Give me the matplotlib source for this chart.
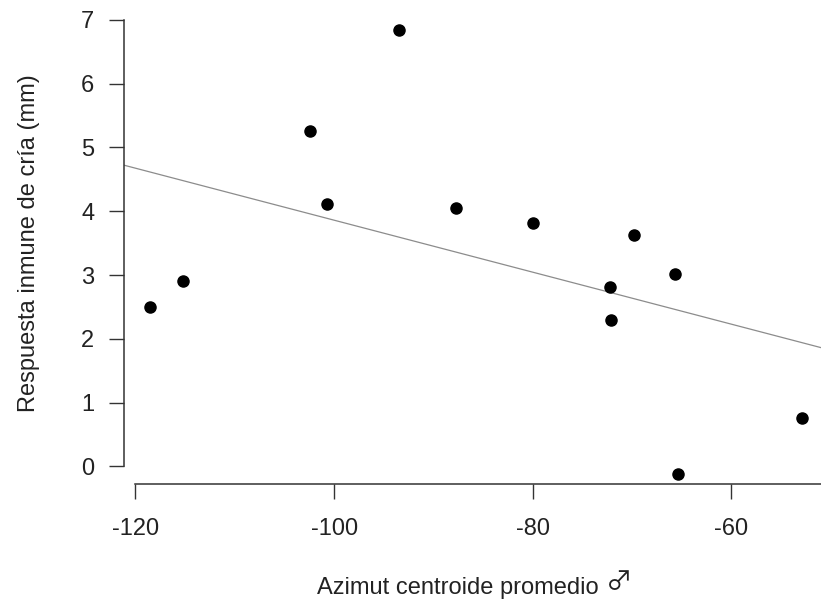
import numpy as np
import matplotlib
matplotlib.use("Agg")
import matplotlib.pyplot as plt

plt.rcParams['font.family'] = ['Liberation Sans', 'DejaVu Sans']

# values
azimut = [-118.5, -115.2, -102.4, -100.7, -93.5, -87.7, -80.0,
          -69.8, -65.7, -72.2, -72.1, -65.4, -52.9]
respuesta = [2.50, 2.90, 5.26, 4.11, 6.84, 4.05, 3.82,
             3.63, 3.02, 2.81, 2.29, -0.12, 0.76]
x_ticks = [-120, -100, -80, -60]
y_ticks = [0, 1, 2, 3, 4, 5, 6, 7]

x = np.array(azimut)
y = np.array(respuesta)

# R-style limits: 4% padding around the data, ylim given as 0..7
xr = x.max() - x.min()
xlim = (x.min() - 0.04 * xr, x.max() + 0.04 * xr)
ylim = (0 - 0.04 * 7, 7 + 0.04 * 7)

fig = plt.figure(figsize=(8.21, 6.06), dpi=100)
# plot region runs a bit past the right edge of the picture (cropped)
ax = fig.add_axes([124.3 / 821, (606 - 484.3) / 606, 703.7 / 821, 482.3 / 606])

ax.plot(x, y, 'o', color='black', ms=8, clip_on=False, zorder=3)

b, a = np.polyfit(x, y, 1)
xx = np.array(xlim)
ax.plot(xx, a + b * xx, color='#8c8c8c', lw=0.9)

ax.set_xlim(xlim)
ax.set_ylim(ylim)

for s in ['top', 'right']:
    ax.spines[s].set_visible(False)
ax.spines['left'].set_bounds(0, 7)
ax.spines['bottom'].set_bounds(-120, xlim[1])
for s in ['left', 'bottom']:
    ax.spines[s].set_color('#333333')
    ax.spines[s].set_linewidth(1.1)

ax.set_xticks(x_ticks)
ax.set_yticks(y_ticks)
ax.set_xticklabels([str(t) for t in x_ticks])
ax.set_yticklabels([str(t) for t in y_ticks])
ax.tick_params(axis='both', direction='out', length=10.5, width=1.0,
               color='#333333', labelsize=17, labelcolor='#222222')
ax.tick_params(axis='x', pad=14)
ax.tick_params(axis='y', pad=11)

ax.set_xlabel('Azimut centroide promedio ', fontsize=17, color='#222222')
ax.xaxis.set_label_coords(0.479, -0.192)
# male sign in a thinner symbol font, right after the label
ax.annotate('\u2642', xy=(1, 0.12), xycoords=ax.xaxis.label,
            ha='left', va='bottom', fontsize=19, color='#222222',
            family=['Noto Sans CJK JP', 'DejaVu Sans'])

ax.set_ylabel('Respuesta inmune de cría (mm)', fontsize=17, color='#222222',
              labelpad=30)

fig.savefig('out.png', dpi=100)
